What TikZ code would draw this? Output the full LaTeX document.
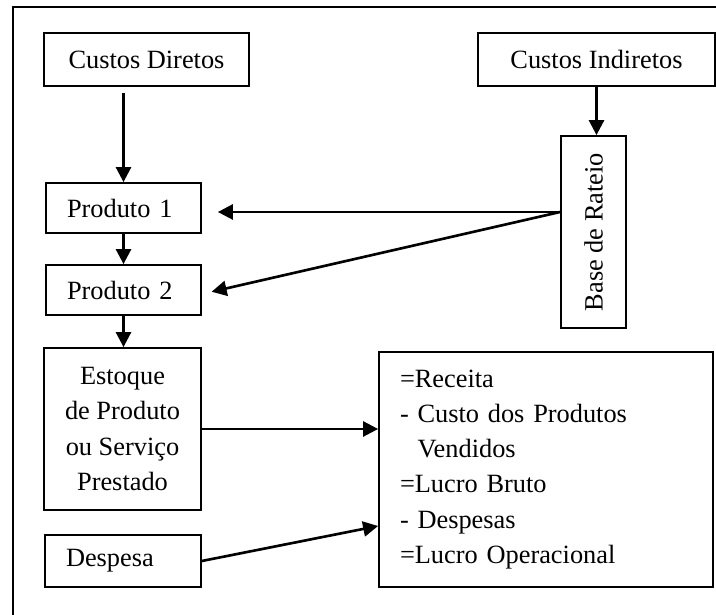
\documentclass[tikz,border=0pt]{standalone}
\usepackage{fontspec}
\setmainfont{Liberation Serif}
\usetikzlibrary{arrows.meta}

\begin{document}
\begin{tikzpicture}[
		every node/.style={
				font=\fontsize{15}{20}\selectfont,
			},
		caixa/.style={draw, line width=1pt, inner sep=0pt, align=center},
		caixaesq/.style={draw, line width=1pt, inner xsep=0.42cm, inner ysep=0pt, align=left},
		seta/.style={-{Triangle[length=0.3cm,width=0.3cm]}, line width=1.5pt},
	]
	\useasboundingbox (0,0) rectangle (14.32,12.30);
	% moldura
	\draw[line width=0.9pt] (0.26,0) |- (14.32,12.16);

	\node[caixa, minimum width=4.1cm, minimum height=1.06cm] (cd) at (2.93,11.11) {Custos Diretos};
	\node[caixa, minimum width=4.74cm, minimum height=1.06cm] (ci) at (11.93,11.11) {Custos Indiretos};
	\node[caixa, minimum width=1.3cm, minimum height=3.84cm] (br) at (11.87,7.66) {\rotatebox{90}{Base de Rateio}};
	\node[caixaesq, text width=2.26cm, minimum height=1cm] (p1) at (2.47,8.14) {Produto 1};
	\node[caixaesq, text width=2.26cm, minimum height=1cm] (p2) at (2.47,6.5) {Produto 2};
	\node[caixa, minimum width=3.14cm, minimum height=3.24cm] (est) at (2.45,3.72) {Estoque\\de Produto\\ou Serviço\\Prestado};
	\node[caixaesq, text width=2.28cm, minimum height=1.04cm] (desp) at (2.46,1.08) {Despesa};
	\node[caixaesq, text width=5.84cm, minimum height=4.7cm] (dre) at (10.92,2.91) {=Receita\\- Custo dos Produtos\\\phantom{- }Vendidos\\=Lucro Bruto\\- Despesas\\=Lucro Operacional};

	\draw[seta, shorten <=0.12cm] (cd.south -| p1.north) -- (p1.north);
	\draw[seta] (p1.south) -- (p2.north);
	\draw[seta] (p2.south) -- (p2.south |- est.north);
	\draw[seta] (ci.south) -- (ci.south |- br.north);
	% rateio
	\coordinate (rt) at ([yshift=0.4cm]br.west);
	\draw[seta, shorten >=0.32cm] (rt) -- (rt -| p1.east);
	\draw[seta, shorten >=0.2cm] (rt) -- ([yshift=-0.08cm]p2.east);
	\draw[seta] (est.east) -- (est.east -| dre.west);
	\draw[seta] (desp.east) -- ([yshift=-1.13cm]dre.west);
\end{tikzpicture}
\end{document}
